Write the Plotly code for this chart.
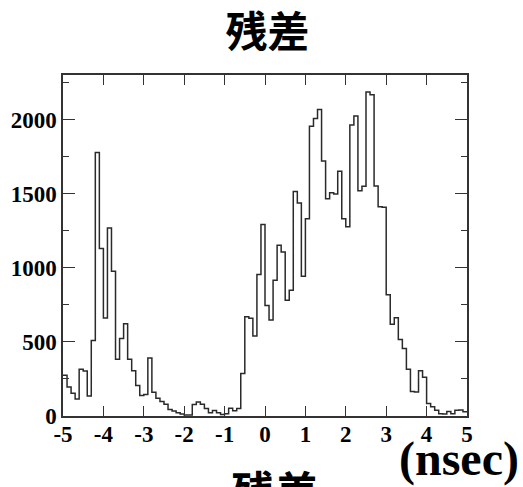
import numpy as np
import plotly.graph_objects as go

# Residual histogram: 100 bins of 0.1 ns from -5 to 5
bin_lo = -5.0
bin_width = 0.1
counts = [
    275, 195, 153, 115, 315, 304, 135, 510, 1777, 1129,
    661, 1268, 976, 382, 522, 623, 382, 306, 205, 139,
    145, 392, 160, 120, 97, 80, 44, 34, 22, 14,
    6, 6, 77, 95, 80, 50, 22, 37, 22, 10,
    15, 52, 35, 50, 287, 669, 660, 540, 955, 1292,
    745, 647, 916, 1152, 1107, 781, 849, 1514, 1436, 943,
    1331, 1955, 2007, 2067, 1720, 1465, 1505, 1498, 1651, 1330,
    1277, 1962, 2024, 1519, 1550, 2186, 2166, 1551, 1412, 1408,
    818, 618, 662, 516, 455, 315, 165, 162, 305, 262,
    84, 62, 38, 15, 14, 30, 16, 38, 40, 28,
]

x_tick_vals = [-5, -4, -3, -2, -1, 0, 1, 2, 3, 4, 5]
x_tick_text = ["-5", "-4", "-3", "-2", "-1", "0", "1", "2", "3", "4", "5"]
y_tick_vals = [0, 500, 1000, 1500, 2000]
y_tick_text = ["0", "500", "1000", "1500", "2000"]

title_text = "残差"
unit_text = "(nsec)"

n = len(counts)
edges = bin_lo + bin_width * np.arange(n + 1)
step_x = edges
step_y = list(counts) + [counts[-1]]

frame = "#333333"
tick_font = dict(family="Liberation Serif", size=23, color="black")

# plot-area geometry in pixels, used to place the free-standing labels
L, R, T, B = 63, 467, 75, 416
def px_x(px):
    return (px - L) / (R - L)
def px_y(py):
    return (B - py) / (B - T)

fig = go.Figure()
fig.add_trace(go.Scatter(
    x=step_x, y=step_y, mode="lines",
    line=dict(color="#2a2a2a", width=1.5, shape="hv"),
    showlegend=False, hoverinfo="skip",
))

fig.update_layout(
    width=523, height=487,
    margin=dict(l=L, r=523 - R, t=T, b=487 - B),
    paper_bgcolor="white", plot_bgcolor="white",
    title=dict(text=f"<b>{title_text}</b>", x=267.5 / 523, xanchor="center",
               y=1 - 32 / 487, yanchor="middle", yref="container",
               font=dict(family="Noto Sans CJK JP", size=42, color="black")),
    xaxis=dict(range=[-5, 5], tickmode="array", tickvals=x_tick_vals,
               ticktext=[f"<b>{t}</b>" for t in x_tick_text],
               ticks="inside", ticklen=10, tickwidth=1.3, tickcolor=frame,
               ticklabelstandoff=-3,
               showline=True, linecolor=frame, linewidth=1.5, mirror="ticks",
               showgrid=False, zeroline=False, tickfont=tick_font),
    yaxis=dict(range=[0, 2300], tickmode="array", tickvals=y_tick_vals,
               ticktext=[f"<b>{t}</b>" for t in y_tick_text],
               ticks="inside", ticklen=12, tickwidth=1.3, tickcolor=frame,
               minor=dict(dtick=250, ticks="inside", ticklen=6, tickwidth=1.3,
                          tickcolor=frame, showgrid=False),
               showline=True, linecolor=frame, linewidth=1.5, mirror="ticks",
               showgrid=False, zeroline=False, tickfont=tick_font),
    annotations=[
        dict(text=f"<b>{unit_text}</b>", xref="paper", yref="paper",
             x=px_x(521), y=px_y(459),
             xanchor="right", yanchor="middle", showarrow=False,
             font=dict(family="Liberation Serif", size=48, color="black")),
        dict(text=f"<b>{title_text}</b>", xref="paper", yref="paper",
             x=px_x(275), y=px_y(490),
             xanchor="center", yanchor="middle", showarrow=False,
             font=dict(family="Noto Sans CJK JP", size=44, color="black")),
    ],
)

fig.write_html("out.html")
